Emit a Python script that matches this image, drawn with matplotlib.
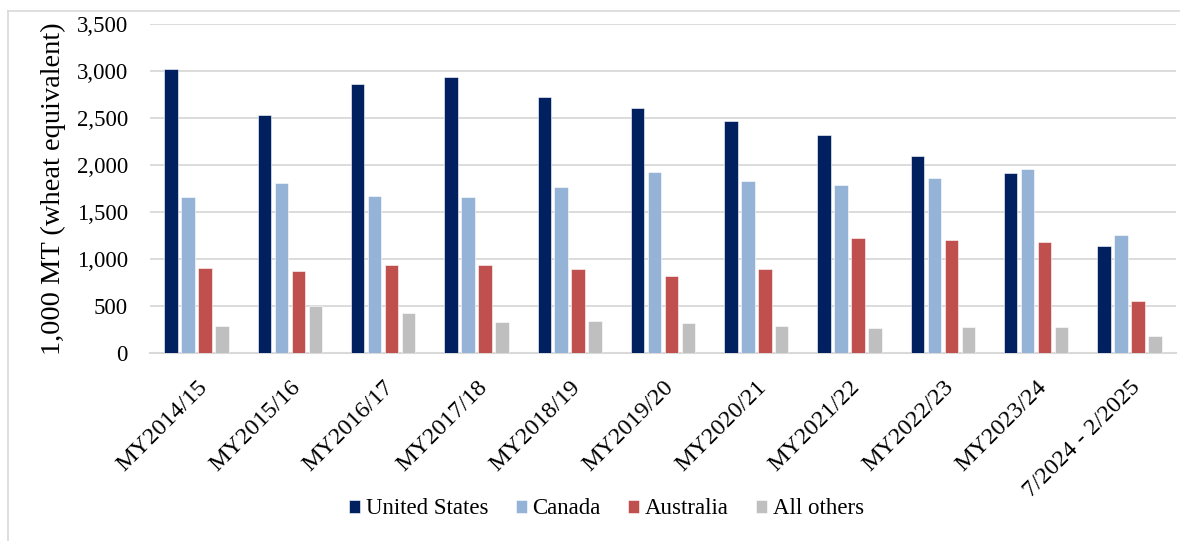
import matplotlib
matplotlib.use("Agg")
import matplotlib.pyplot as plt
import matplotlib.transforms as mtransforms
from matplotlib.lines import Line2D
import numpy as np

plt.rcParams['font.family'] = ['Liberation Serif', 'DejaVu Serif']

# Marketing years shown on the x axis
categories = ["MY2014/15", "MY2015/16", "MY2016/17", "MY2017/18", "MY2018/19",
              "MY2019/20", "MY2020/21", "MY2021/22", "MY2022/23", "MY2023/24",
              "7/2024 - 2/2025"]

# Imports by supplier, 1,000 MT (wheat equivalent)
united_states = [3015, 2527, 2856, 2930, 2718, 2607, 2466, 2321, 2098, 1912, 1142]
canada        = [1656, 1805, 1673, 1656, 1762, 1921, 1829, 1783, 1864, 1954, 1252]
australia     = [905, 874, 937, 934, 892, 813, 892, 1217, 1200, 1178, 550]
all_others    = [287, 495, 425, 329, 340, 318, 290, 261, 276, 280, 184]

series_names = ["United States", "Canada", "Australia", "All others"]
series_values = [united_states, canada, australia, all_others]
series_colors = ["#002060", "#95B3D7", "#C0504D", "#BFBFBF"]

y_ticks = [0, 500, 1000, 1500, 2000, 2500, 3000, 3500]
y_tick_labels = ["0", "500", "1,000", "1,500", "2,000", "2,500", "3,000", "3,500"]

W, H = 1180, 541
fig = plt.figure(figsize=(W / 100, H / 100), dpi=100)
ax_left, ax_right, ax_top, ax_bottom = 150, 1176, 23.6, 353
ax = fig.add_axes([ax_left / W, 1 - ax_bottom / H,
                   (ax_right - ax_left) / W, (ax_bottom - ax_top) / H])

x = np.arange(len(categories))
stride = 0.182
width = 0.145
for i, (name, vals, col) in enumerate(zip(series_names, series_values, series_colors)):
    ax.bar(x + (i - 1.5) * stride, vals, width=width, color=col,
           edgecolor="white", linewidth=0.4, label=name, zorder=3)

ax.set_xlim(-0.5, len(categories) - 0.5)
ax.set_ylim(0, 3500)
ax.set_yticks(y_ticks, y_tick_labels)
ax.yaxis.grid(True, color="#D9D9D9", linewidth=1.3, zorder=0)
ax.set_axisbelow(True)
ax.tick_params(axis="y", length=0, pad=16, labelsize=16.5, colors="black")
ax.tick_params(axis="x", length=0, labelbottom=False)
for side in ["top", "right", "left"]:
    ax.spines[side].set_visible(False)
ax.spines["bottom"].set_color("#D9D9D9")
ax.spines["bottom"].set_linewidth(1.5)

ax.set_ylabel("1,000 MT (wheat equivalent)", fontsize=20.5)
ax.yaxis.set_label_coords((66 - ax_left) / (ax_right - ax_left), 0.5)

# Rotated category labels anchored just below each group
offset = mtransforms.ScaledTranslation(0 / 100, -24 / 100, fig.dpi_scale_trans)
label_trans = ax.get_xaxis_transform() + offset
for xi, lab in zip(x, categories):
    ax.text(xi, 0, lab, transform=label_trans, rotation=45, rotation_mode="anchor",
            ha="right", va="top", fontsize=17.5)

fig.legend(loc="center", bbox_to_anchor=(606.5 / W, 1 - 509 / H), ncol=4,
           frameon=False, fontsize=16.5, handlelength=0.48, handleheight=0.48,
           handletextpad=0.26, columnspacing=1.18, borderaxespad=0)

# Chart area outline (left and top edges)
fig.add_artist(Line2D([8 / W, 8 / W], [0, 1 - 11 / H], transform=fig.transFigure,
                      color="#D9D9D9", linewidth=1.2))
fig.add_artist(Line2D([8 / W, 1], [1 - 11 / H, 1 - 11 / H], transform=fig.transFigure,
                      color="#D9D9D9", linewidth=1.2))

fig.savefig("out.png", dpi=100)
